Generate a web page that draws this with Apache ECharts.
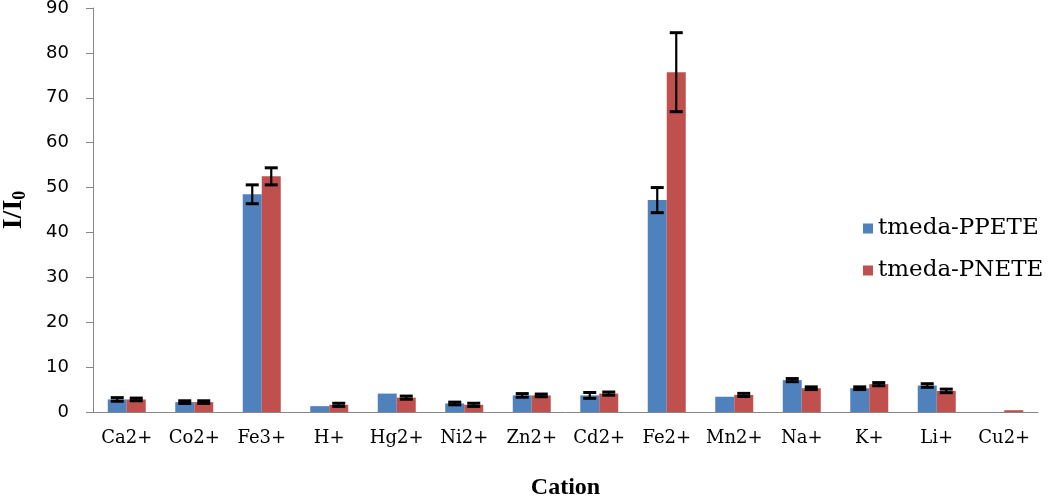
<!DOCTYPE html>
<html>
<head>
<meta charset="utf-8">
<script src="https://cdn.jsdelivr.net/npm/echarts@6/dist/echarts.min.js"></script>
<style>
  html, body { margin: 0; padding: 0; background: #fff; }
  #main { width: 1050px; height: 499px; }
</style>
</head>
<body>
<div id="main"></div>
<script>
const cations = ['Ca2+', 'Co2+', 'Fe3+', 'H+', 'Hg2+', 'Ni2+', 'Zn2+', 'Cd2+', 'Fe2+', 'Mn2+', 'Na+', 'K+', 'Li+', 'Cu2+']
const ppete = [2.8, 2.2, 48.5, 1.3, 4.1, 1.9, 3.7, 3.7, 47.2, 3.4, 7.1, 5.3, 5.9, 0]
const ppeteErr = [0.4, 0.3, 2.1, 0, 0, 0.3, 0.4, 0.65, 2.8, 0, 0.35, 0.3, 0.4, 0]
const pnete = [2.8, 2.2, 52.5, 1.6, 3.2, 1.6, 3.7, 4.1, 75.7, 3.8, 5.3, 6.2, 4.7, 0.4]
const pneteErr = [0.3, 0.3, 1.9, 0.35, 0.35, 0.35, 0.3, 0.35, 8.8, 0.35, 0.3, 0.35, 0.4, 0]
const yTicks = { min: 0, max: 90, interval: 10 }

const blue = '#4F81BD'
const red = '#C0504D'
const barW = 19

const errData = (vals, errs) => vals.map((v, i) => [i, v - errs[i], v + errs[i], errs[i]])

const errSeries = (name, vals, errs, offset) => ({
    type: 'custom',
    name: name + ' err',
    z: 5,
    data: errData(vals, errs),
    encode: { x: 0, y: [1, 2] },
    renderItem: (params, api) => {
        if (api.value(3) <= 0) return null
        const lo = api.coord([api.value(0), api.value(1)])
        const hi = api.coord([api.value(0), api.value(2)])
        const x = lo[0] + offset
        const cap = 6.5
        const stem = { stroke: '#000', lineWidth: 2.2 }
        const capStyle = { stroke: '#000', lineWidth: 3 }
        return {
            type: 'group',
            children: [
                { type: 'line', shape: { x1: x, y1: lo[1], x2: x, y2: hi[1] }, style: stem },
                { type: 'line', shape: { x1: x - cap, y1: lo[1], x2: x + cap, y2: lo[1] }, style: capStyle },
                { type: 'line', shape: { x1: x - cap, y1: hi[1], x2: x + cap, y2: hi[1] }, style: capStyle }
            ]
        }
    }
})

const chart = echarts.init(document.getElementById('main'))
chart.setOption({
    animation: false,
    backgroundColor: '#fff',
    legend: {
        data: ['tmeda-PPETE', 'tmeda-PNETE'],
        orient: 'vertical',
        left: 858,
        top: 212,
        icon: 'rect',
        itemWidth: 10,
        itemHeight: 10,
        itemGap: 19,
        textStyle: { fontFamily: 'DejaVu Serif', fontSize: 23, color: '#000' }
    },
    grid: {
        left: 93,
        right: 12,
        top: 8,
        bottom: 87,
        containLabel: false,
        outerBoundsMode: 'none'
    },
    xAxis: {
        type: 'category',
        data: cations,
        name: 'Cation',
        nameLocation: 'middle',
        nameGap: 64,
        nameTextStyle: { fontFamily: 'Liberation Serif', fontWeight: 'bold', fontSize: 24, color: '#000' },
        axisLine: { lineStyle: { color: '#868686' } },
        axisTick: { length: 8, lineStyle: { color: '#868686' } },
        axisLabel: { interval: 0, margin: 17, fontFamily: 'DejaVu Serif', fontSize: 18, color: '#000' }
    },
    yAxis: {
        type: 'value',
        min: yTicks.min,
        max: yTicks.max,
        interval: yTicks.interval,
        name: 'I/I{sub|0}',
        nameLocation: 'middle',
        nameGap: 64,
        nameTextStyle: {
            fontFamily: 'Liberation Serif', fontWeight: 'bold', fontSize: 28, color: '#000',
            rich: {
                sub: { fontFamily: 'Liberation Serif', fontWeight: 'bold', fontSize: 18, color: '#000', verticalAlign: 'bottom', padding: [12, 0, 0, 0] }
            }
        },
        axisLine: { show: true, lineStyle: { color: '#868686' } },
        axisTick: { show: true, length: 7, lineStyle: { color: '#868686' } },
        splitLine: { show: false },
        axisLabel: { margin: 24, fontFamily: 'DejaVu Sans', fontSize: 18, color: '#000' }
    },
    series: [
        {
            name: 'tmeda-PPETE',
            type: 'bar',
            data: ppete,
            barWidth: barW,
            barGap: '0%',
            itemStyle: { color: blue }
        },
        {
            name: 'tmeda-PNETE',
            type: 'bar',
            data: pnete,
            barWidth: barW,
            barGap: '0%',
            itemStyle: { color: red }
        },
        errSeries('tmeda-PPETE', ppete, ppeteErr, -barW / 2),
        errSeries('tmeda-PNETE', pnete, pneteErr, barW / 2)
    ]
})
</script>
</body>
</html>
